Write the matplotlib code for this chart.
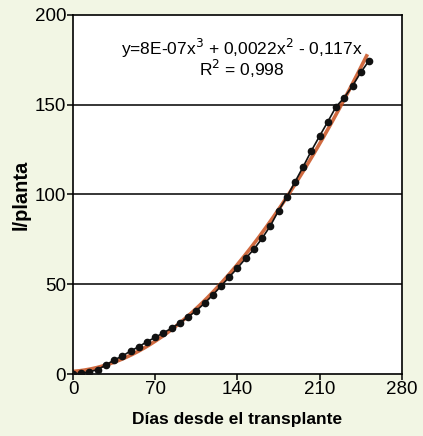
import numpy as np
import matplotlib.pyplot as plt

plt.rcParams['font.family'] = ['Liberation Sans', 'DejaVu Sans']

# days after transplant and value per plant
dias = [0, 7, 14, 21, 28, 35, 42, 49, 56, 63, 70, 77, 84, 91, 98, 105, 112,
        119, 126, 133, 140, 147, 154, 161, 168, 175, 182, 189, 196, 203, 210,
        217, 224, 231, 238, 245, 252]
planta = [0, 0.5, 1.2, 2.5, 5, 7.8, 10, 12.8, 15.2, 18, 20.4, 23, 25.5, 28.5,
          31.8, 35.3, 39.4, 44, 49, 54, 59, 64.4, 69.5, 75.6, 82.5, 91, 98.5,
          107, 115.5, 124.4, 132.6, 140.6, 148.9, 154, 160.5, 168, 174.5]

x_ticks = [0, 70, 140, 210, 280]
y_ticks = [0, 50, 100, 150, 200]


def main():
    fig = plt.figure(figsize=(4.23, 4.36), dpi=100, facecolor='#f2f6e4')
    ax = fig.add_axes([0.1726, 0.1422, 0.7774, 0.8234])
    ax.set_facecolor('white')

    for v in y_ticks[1:-1]:
        ax.axhline(v, color='black', lw=1.1, zorder=1)

    # cubic trend line fitted to the points
    coef = np.polyfit(dias, planta, 3)
    xx = np.linspace(0, 250, 200)
    ax.plot(xx, np.polyval(coef, xx), color='#c8501e', lw=2.6, alpha=0.85, zorder=2)

    ax.plot(dias, planta, color='#111111', lw=1.2, marker='o', ms=4.5, zorder=3)

    ax.set_xlim(0, 280)
    ax.set_ylim(0, 200)
    ax.set_xticks(x_ticks)
    ax.set_yticks(y_ticks)
    ax.tick_params(direction='out', length=4, width=1.1, labelsize=13.5, pad=1)
    for s in ax.spines.values():
        s.set_linewidth(1.2)

    ax.text(144, 181.5, 'y=8E-07x$^3$ + 0,0022x$^2$ - 0,117x', ha='center', va='center', fontsize=12.5)
    ax.text(144, 170, 'R$^2$ = 0,998', ha='center', va='center', fontsize=12.5)

    ax.set_xlabel('Días desde el transplante', fontsize=12.5, fontweight='bold', labelpad=10)
    ax.set_ylabel('l/planta', fontsize=14.5, fontweight='bold')
    ax.yaxis.set_label_coords(-0.13, 0.5)

    fig.savefig('out.png', dpi=100, facecolor=fig.get_facecolor())


if __name__ == "__main__":
    main()
